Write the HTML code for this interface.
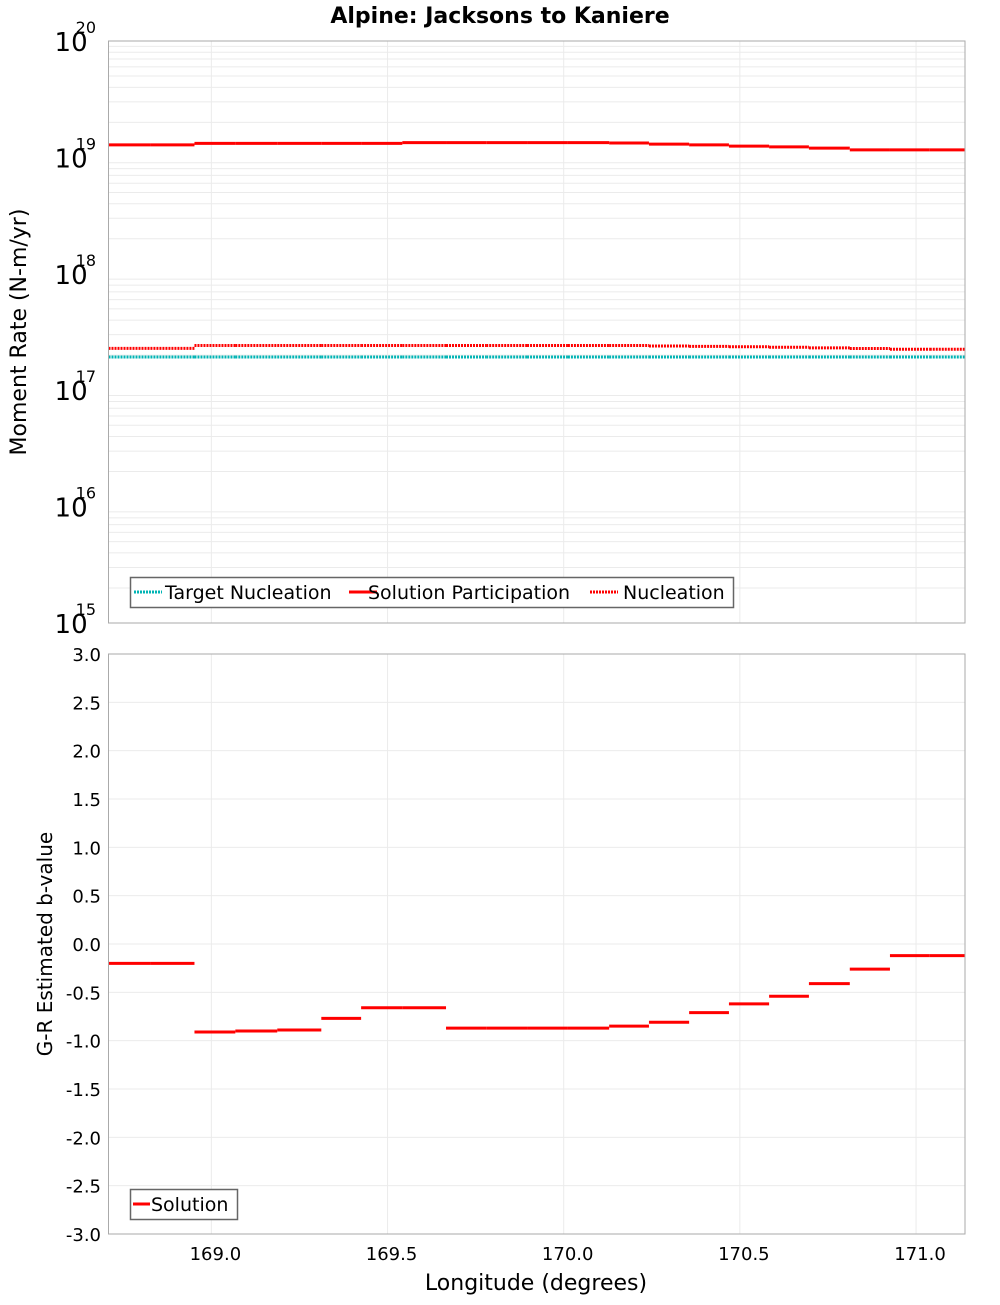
<!DOCTYPE html>
<html><head><meta charset="utf-8"><style>
body{margin:0;background:#fff;width:1000px;height:1300px;overflow:hidden}
svg text{font-family:"DejaVu Sans","Liberation Sans",sans-serif}
</style></head><body>
<svg id="chart" width="1000" height="1300" xmlns="http://www.w3.org/2000/svg">
<text x="500" y="23" text-anchor="middle" font-size="22" font-weight="bold">Alpine: Jacksons to Kaniere</text>
<g id="topPanel"></g>
<g id="botPanel"></g>
<text transform="translate(26,332) rotate(-90)" text-anchor="middle" font-size="22">Moment Rate (N-m/yr)</text>
<text transform="translate(52,944) rotate(-90)" text-anchor="middle" font-size="20">G-R Estimated b-value</text>
<text x="536" y="1290" text-anchor="middle" font-size="22">Longitude (degrees)</text>
</svg>
<script>
const boundaries=[168.708,168.827,168.952,169.068,169.187,169.312,169.425,169.542,169.666,169.780,169.896,170.012,170.129,170.242,170.356,170.469,170.583,170.696,170.812,170.926,171.039,171.139];
const participation=[1.28e19,1.28e19,1.32e19,1.32e19,1.32e19,1.32e19,1.32e19,1.34e19,1.34e19,1.34e19,1.34e19,1.34e19,1.33e19,1.30e19,1.28e19,1.25e19,1.23e19,1.20e19,1.16e19,1.16e19,1.16e19];
const nucleation=[2.29e17,2.29e17,2.42e17,2.42e17,2.42e17,2.42e17,2.42e17,2.42e17,2.42e17,2.42e17,2.42e17,2.42e17,2.42e17,2.40e17,2.38e17,2.36e17,2.34e17,2.31e17,2.28e17,2.25e17,2.25e17];
const targetNucleation=[1.93e17,1.93e17,1.93e17,1.93e17,1.93e17,1.93e17,1.93e17,1.93e17,1.93e17,1.93e17,1.93e17,1.93e17,1.93e17,1.93e17,1.93e17,1.93e17,1.93e17,1.93e17,1.93e17,1.93e17,1.93e17];
const bValues=[-0.2,-0.2,-0.91,-0.90,-0.89,-0.77,-0.66,-0.66,-0.87,-0.87,-0.87,-0.87,-0.85,-0.81,-0.71,-0.62,-0.54,-0.41,-0.26,-0.12,-0.12];
const xTicks=[169.0,169.5,170.0,170.5,171.0];
const logTicks=[15,16,17,18,19,20];
const bTicks=[-3,-2.5,-2,-1.5,-1,-0.5,0,0.5,1,1.5,2,2.5,3];

const NS='http://www.w3.org/2000/svg';
const L=108.5,R=965;
const XMIN=168.708,XMAX=171.139;
const x=v=>L+(v-XMIN)/(XMAX-XMIN)*(R-L);
const T1=41,B1=623,yl=v=>B1-(Math.log10(v)-15)/5*(B1-T1);
const T2=654,B2=1234,yb=v=>B2-(v+3)/6*(B2-T2);
function mk(p,tag,a,txt){const e=document.createElementNS(NS,tag);for(const k in a)e.setAttribute(k,a[k]);if(txt!==undefined)e.textContent=txt;p.appendChild(e);return e;}
const topG=document.getElementById('topPanel'),botG=document.getElementById('botPanel');
for(let d=15;d<20;d++)for(let m=2;m<=9;m++){const y=yl(m*Math.pow(10,d));
 const g=mk(topG,'line',{x1:L,x2:R,y1:y,y2:y,stroke:'#ebebeb','stroke-width':1});
 
 }
xTicks.forEach(t=>{const g=mk(topG,'line',{x1:x(t),x2:x(t),y1:T1,y2:B1,stroke:'#ebebeb'});
 
 
 const h=mk(botG,'line',{x1:x(t),x2:x(t),y1:T2,y2:B2,stroke:'#ebebeb'});
 
 
 const lb=mk(botG,'text',{x:x(t)+4,y:B2+26,'text-anchor':'middle','font-size':18},t.toFixed(1));
 
 });
logTicks.forEach(d=>{const y=yl(Math.pow(10,d));
 const t=mk(topG,'text',{x:96,y:y+10,'text-anchor':'end','font-size':26});
 
 
 mk(t,'tspan',{},'10');mk(t,'tspan',{dy:-18,dx:-12,'font-size':16},String(d));});
bTicks.forEach(v=>{const y=yb(v);
 const g=mk(botG,'line',{x1:L,x2:R,y1:y,y2:y,stroke:'#ebebeb'});
 
 
 const lb=mk(botG,'text',{x:101,y:y+7,'text-anchor':'end','font-size':18},v.toFixed(1));
 
 });
function steps(p,vals,fy,col,dash,name){vals.forEach((v,i)=>{
 const a={x1:x(boundaries[i]),x2:x(boundaries[i+1]),y1:fy(v),y2:fy(v),stroke:col,'stroke-width':3};
 if(dash)a['stroke-dasharray']=dash;
 const s=mk(p,'line',a);
 
 });}
steps(topG,targetNucleation,yl,'#00b4b4','2,1','target-nucleation-segment');
steps(topG,nucleation,yl,'#ff0000','2,1','nucleation-segment');
steps(topG,participation,yl,'#ff0000',null,'participation-segment');
steps(botG,bValues,yb,'#ff0000',null,'b-value-segment');
const f1=mk(topG,'rect',{x:L,y:T1,width:R-L,height:B1-T1,fill:'none',stroke:'#aaa'});


const f2=mk(botG,'rect',{x:L,y:T2,width:R-L,height:B2-T2,fill:'none',stroke:'#aaa'});


const lg=mk(topG,'g',{});


mk(lg,'rect',{x:130.5,y:577.5,width:603,height:30,fill:'#fff',stroke:'#666','stroke-width':1.5});
[[134,'#00b4b4','2,1','Target Nucleation',165],[349,'#ff0000',null,'Solution Participation',368],[590,'#ff0000','2,1','Nucleation',623]].forEach(e=>{
 const a={x1:e[0],x2:e[0]+28,y1:592,y2:592,stroke:e[1],'stroke-width':3};if(e[2])a['stroke-dasharray']=e[2];
 const ln=mk(lg,'line',a);
 
 
 const t=mk(lg,'text',{x:e[4],y:599,'font-size':19},e[3]);
 
 });
const lg2=mk(botG,'g',{});


mk(lg2,'rect',{x:130.5,y:1189.5,width:107,height:30,fill:'#fff',stroke:'#666','stroke-width':1.5});
const l2=mk(lg2,'line',{x1:133,x2:150,y1:1204,y2:1204,stroke:'#ff0000','stroke-width':3});


const t2=mk(lg2,'text',{x:151,y:1211,'font-size':19},'Solution');


</script>
</body></html>
